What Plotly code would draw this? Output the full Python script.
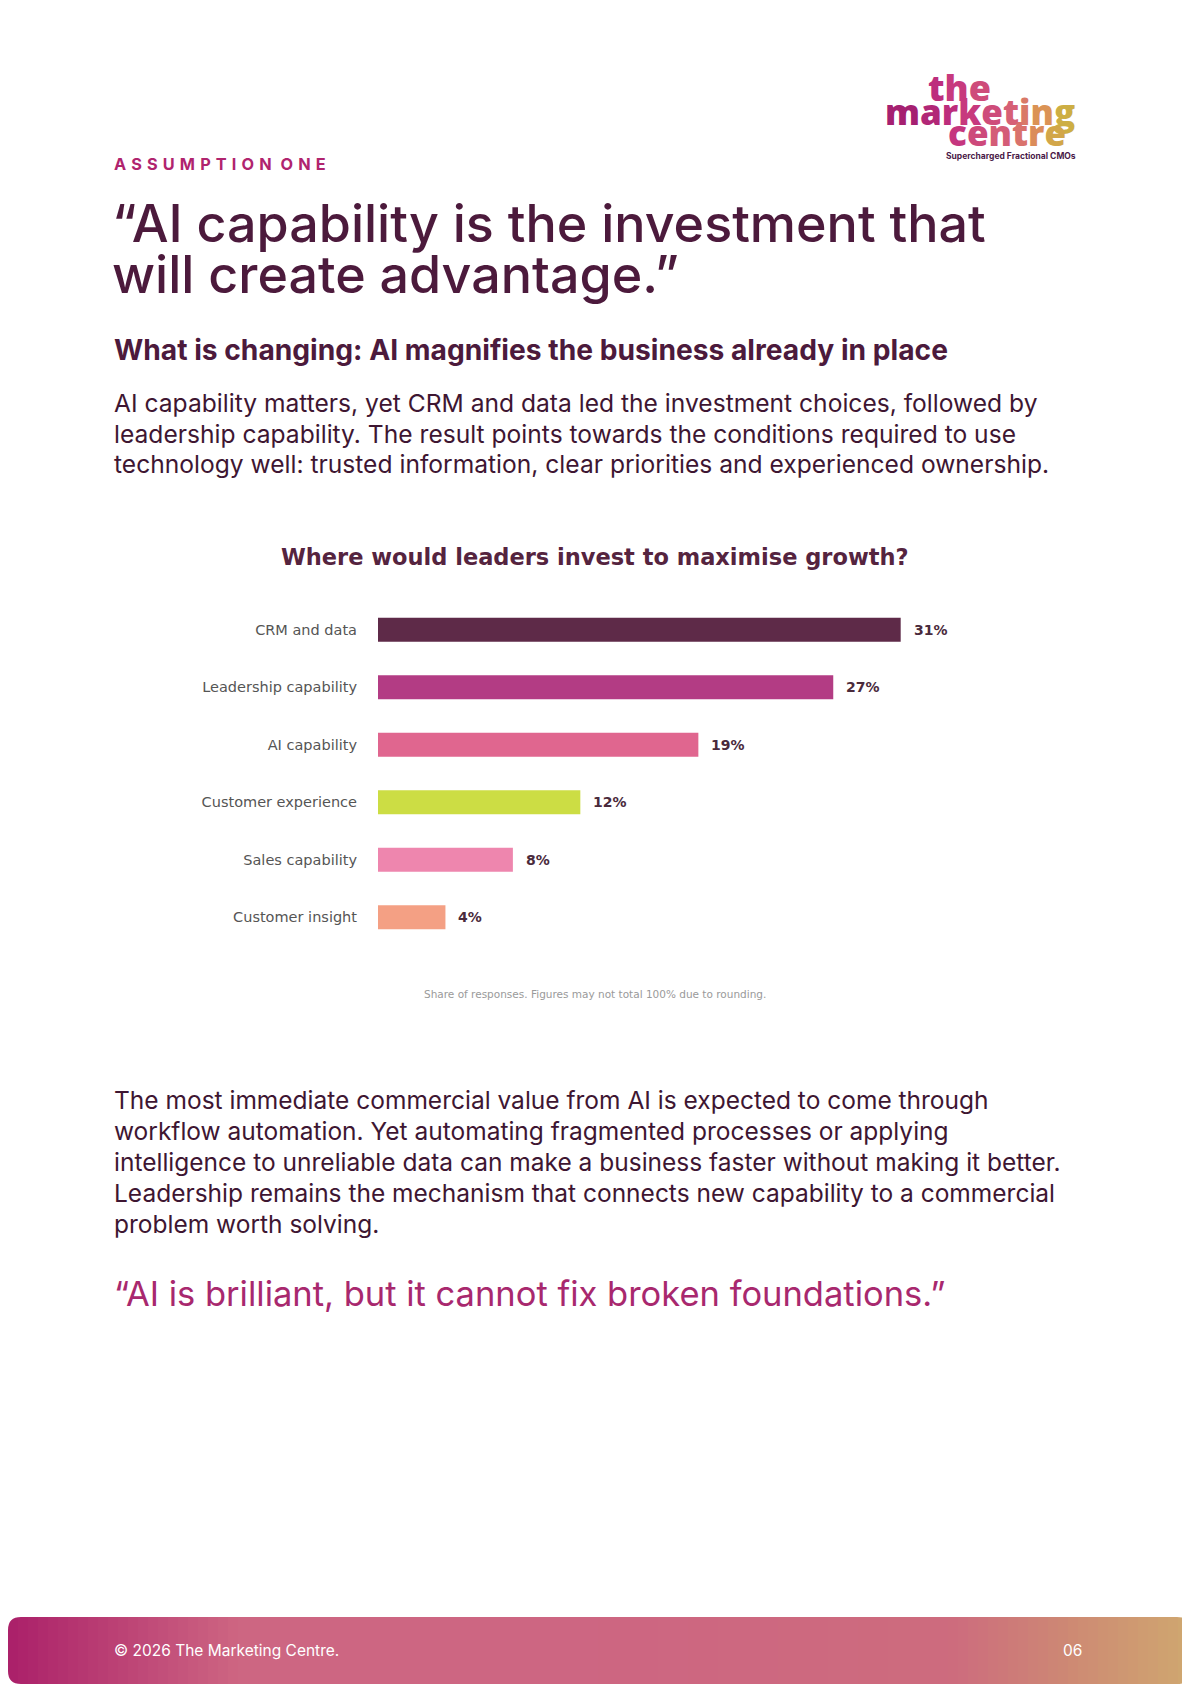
import numpy as np
import plotly.graph_objects as go

# page is 1190x1684; the html body adds an 8px margin, so the figure is 8px smaller
PAGE_W, PAGE_H = 1190, 1684
OFF = 8
FW, FH = PAGE_W - OFF, PAGE_H - OFF

# chart data
categories = ["CRM and data", "Leadership capability", "AI capability",
              "Customer experience", "Sales capability", "Customer insight"]
shares = [31, 27, 19, 12, 8, 4]
bar_colors = ["#5E2A48", "#B33C84", "#E0668F", "#CCDD44", "#EE86AE", "#F4A084"]

chart_title = "Where would leaders invest to maximise growth?"
chart_note = "Share of responses. Figures may not total 100% due to rounding."

# page text
kicker = "ASSUMPTION ONE"
headline = ["\u201cAI capability is the investment that", "will create advantage.\u201d"]
subhead = "What is changing: AI magnifies the business already in place"
para1 = [
    "AI capability matters, yet CRM and data led the investment choices, followed by",
    "leadership capability. The result points towards the conditions required to use",
    "technology well: trusted information, clear priorities and experienced ownership.",
]
para2 = [
    "The most immediate commercial value from AI is expected to come through",
    "workflow automation. Yet automating fragmented processes or applying",
    "intelligence to unreliable data can make a business faster without making it better.",
    "Leadership remains the mechanism that connects new capability to a commercial",
    "problem worth solving.",
]
quote = "\u201cAI is brilliant, but it cannot fix broken foundations.\u201d"
footer_left = "\u00a9 2026 The Marketing Centre."
footer_right = "06"

PLUM = "#4C1A3C"
MAGENTA = "#A8286E"
BODY_FONT = "Inter"
CHART_FONT = "DejaVu Sans"


def px(x):
    return (x - OFF) / FW


def py(y):
    return 1 - (y - OFF) / FH


fig = go.Figure()
fig.add_trace(go.Bar(
    x=shares, y=categories, orientation="h",
    marker=dict(color=bar_colors, line=dict(width=0)),
    hoverinfo="skip",
))

annotations = []


def text(x, y, s, size, color, family=BODY_FONT, weight=400, anchor="left"):
    annotations.append(dict(
        x=px(x), y=py(y), xref="paper", yref="paper", text=s, showarrow=False,
        xanchor=anchor, yanchor="middle",
        font=dict(family=family, size=size, color=color, weight=weight),
    ))


# value labels next to bars
for cat, v in zip(categories, shares):
    annotations.append(dict(
        x=v, y=cat, xref="x", yref="y", text=f"<b>{v}%</b>", showarrow=False,
        xanchor="left", yanchor="middle", xshift=11,
        font=dict(family=CHART_FONT, size=14, color="#4A2A3C"),
    ))

# kicker with letter spacing
gap = "\u2009\u2009"
spaced = " ".join(gap.join(list(w)) for w in kicker.split(" ")).replace(" ", gap + " ")
text(112, 164, spaced, 16.3, "#B0246E", weight=700)

for i, line in enumerate(headline):
    text(110, 223 + i * 51.5, line, 52, PLUM, weight=500)

text(112, 350, subhead, 28.2, PLUM, weight=700)

for i, line in enumerate(para1):
    text(112, 403 + i * 30.5, line, 24.6, "#3E1632")

text(PAGE_W / 2, 557, f"<b>{chart_title}</b>", 22.5, "#55243F", family=CHART_FONT, anchor="center")
text(PAGE_W / 2, 994, chart_note, 10.5, "#9A9A9A", family=CHART_FONT, anchor="center")

for i, line in enumerate(para2):
    text(112, 1100 + i * 31, line, 24.5, "#3E1632")

text(112, 1293, quote, 34.5, MAGENTA)

# logo: per-letter gradient colours
logo_stops_x = [880, 950, 1005, 1045, 1078]
logo_stops_c = [(158, 28, 110), (196, 50, 128), (216, 100, 118), (220, 150, 84), (196, 192, 58)]


def logo_color(x):
    c = [int(np.interp(x, logo_stops_x, [s[k] for s in logo_stops_c])) for k in range(3)]
    return "rgb(%d,%d,%d)" % tuple(c)


def logo_word(word, x0, x1, y, size):
    n = len(word)
    spans = []
    for i, ch in enumerate(word):
        xc = x0 + (i + 0.5) * (x1 - x0) / n
        spans.append(f"<span style='color:{logo_color(xc)}'>{ch}</span>")
    annotations.append(dict(
        x=px((x0 + x1) / 2), y=py(y), xref="paper", yref="paper", text="".join(spans),
        showarrow=False, xanchor="center", yanchor="middle",
        font=dict(family="Open Sans", size=size, weight=800),
    ))


logo_word("the", 928, 990, 87, 36)
logo_word("marketing", 884, 1075, 112, 35)
logo_word("centre", 945, 1068, 133, 35)
text(1011, 156, "<b>Supercharged Fractional CMOs</b>", 8.5, "#4A1A48", anchor="center")

# footer band with gradient
shapes = []
band_top, band_bot = 1617, PAGE_H
grad_x = [0, 0.2, 0.5, 0.8, 0.9, 1.0]
grad_c = [(170, 30, 105), (206, 102, 130), (205, 102, 130), (205, 108, 126), (206, 138, 116), (208, 168, 112)]
step = 10
for x0 in range(OFF, PAGE_W, step):
    t = (x0 + step / 2) / PAGE_W
    c = [int(np.interp(t, grad_x, [s[k] for s in grad_c])) for k in range(3)]
    shapes.append(dict(
        type="rect", xref="paper", yref="paper", x0=px(x0), x1=px(min(x0 + step + 1, PAGE_W)),
        y0=py(band_top), y1=py(band_bot), fillcolor="rgb(%d,%d,%d)" % tuple(c),
        line=dict(width=0), layer="below",
    ))

r = 13
L, R = OFF, PAGE_W
corners = [
    ((L, band_top), (L + r, band_top), (L, band_top + r)),
    ((R, band_top), (R - r, band_top), (R, band_top + r)),
    ((L, band_bot), (L + r, band_bot), (L, band_bot - r)),
    ((R, band_bot), (R - r, band_bot), (R, band_bot - r)),
]
for (cx, cy), (ax, ay), (bx, by) in corners:
    path = (f"M {px(cx)},{py(cy)} L {px(ax)},{py(ay)} "
            f"Q {px(cx)},{py(cy)} {px(bx)},{py(by)} Z")
    shapes.append(dict(type="path", xref="paper", yref="paper", path=path,
                       fillcolor="white", line=dict(width=0), layer="above"))

text(112, 1650, footer_left, 15.5, "white")
text(1084, 1650, footer_right, 15.5, "white", anchor="right")

fig.update_layout(
    width=FW, height=FH, autosize=False,
    margin=dict(l=0, r=0, t=0, b=0),
    paper_bgcolor="white", plot_bgcolor="white",
    showlegend=False, bargap=0.58,
    annotations=annotations, shapes=shapes,
    xaxis=dict(domain=[px(378), px(985)], range=[0, 36], visible=False, fixedrange=True),
    yaxis=dict(domain=[py(946), py(601)], autorange="reversed", showgrid=False,
               showline=False, zeroline=False, ticks="", ticklabelstandoff=20,
               tickfont=dict(family=CHART_FONT, size=14.5, color="#555555"), fixedrange=True),
)

fig.write_html("out.html")
